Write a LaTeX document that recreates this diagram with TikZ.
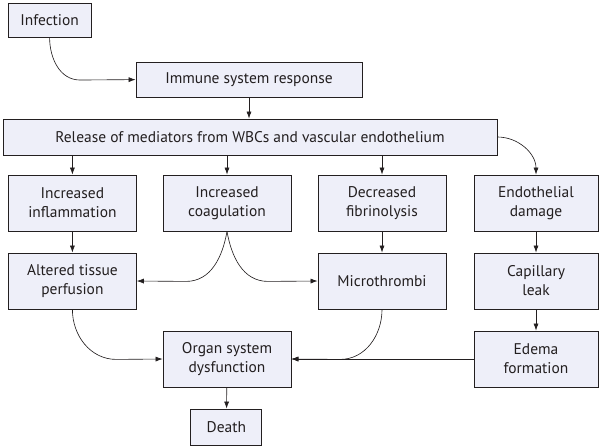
\documentclass[tikz,border=0pt]{standalone}
\usepackage{fontspec}
\setmainfont{PT Sans}
\definecolor{boxfill}{RGB}{238,239,249}
\definecolor{inkgray}{RGB}{35,31,32}
\usetikzlibrary{arrows.meta, positioning}

\begin{document}
\begin{tikzpicture}[
          box/.style={
              draw=inkgray,
              fill=boxfill,
              line width=0.6pt,
              inner sep=0pt,
              text=inkgray,
              font=\fontsize{11}{13.5}\selectfont,
              align=center
            },
          stagebox/.style={
              box,
              minimum width=3.2cm,
              minimum height=1.4cm
            },
          arr/.style={-{Latex[length=5pt,width=3.6pt]}, inkgray, line width=0.45pt}
        ]
        \useasboundingbox (0,0) rectangle (15.075,-11.175);

        \node[box, minimum width=2.08cm, minimum height=0.85cm] (infection) at (1.24,-0.50) {Infection};
        \node[box, minimum width=5.65cm, minimum height=0.875cm] (immune) at (6.225,-1.99) {Immune system response};
        \node[box, minimum width=12.35cm, minimum height=0.9cm] (release) at (6.25,-3.425)
        {Release of mediators from WBCs and vascular endothelium};

        \node[stagebox] (inflam) at (1.81,-5.075) {Increased\\inflammation};
        \node[stagebox] (coag) at (5.675,-5.075) {Increased\\coagulation};
        \node[stagebox] (fibrin) at (9.55,-5.075) {Decreased\\fibrinolysis};
        \node[stagebox, minimum width=3.1cm] (endo) at (13.4,-5.075) {Endothelial\\damage};

        \node[stagebox] (altered) at (1.81,-7.025) {Altered tissue\\perfusion};
        \node[stagebox] (micro) at (9.55,-7.025) {Microthrombi};
        \node[stagebox, minimum width=3.1cm] (capleak) at (13.4,-7.025) {Capillary\\leak};

        \node[stagebox] (organ) at (5.675,-8.975) {Organ system\\dysfunction};
        \node[stagebox, minimum width=3.1cm] (edema) at (13.4,-8.975) {Edema\\formation};
        \node[box, minimum width=1.775cm, minimum height=0.9cm] (death) at (5.66,-10.675) {Death};

        \draw[arr] (infection.south) to[out=-90,in=180] ++(0.76,-1.065) -- (immune.west);
        \draw[arr] (immune.south) -- (immune.south |- release.north);
        \foreach \n in {inflam, coag, fibrin}
          \draw[arr] (release.south -| \n.north) -- (\n.north);
        \draw[arr] (release.east) to[out=0,in=90] (endo.north);

        \draw[arr] (inflam) -- (altered);
        \draw[arr] (fibrin) -- (micro);
        \draw[arr] (endo) -- (capleak);
        \draw[arr] (capleak) -- (edema);
        \draw[arr] (coag.south) to[out=-100,in=0] ++(-1.025,-1.25) -- (altered.east);
        \draw[arr] (coag.south) to[out=-80,in=180] ++(1.025,-1.25) -- (micro.west);

        \draw[arr] (altered.south) to[out=-90,in=180] ++(1.1,-1.25) -- (organ.west);
        \draw[arr] (micro.south) to[out=-90,in=0] ++(-1.05,-1.25) -- (organ.east);
        \draw[arr] (edema.west) -- (organ.east);
        \draw[arr] (organ) -- (death);
      \end{tikzpicture}
\end{document}
